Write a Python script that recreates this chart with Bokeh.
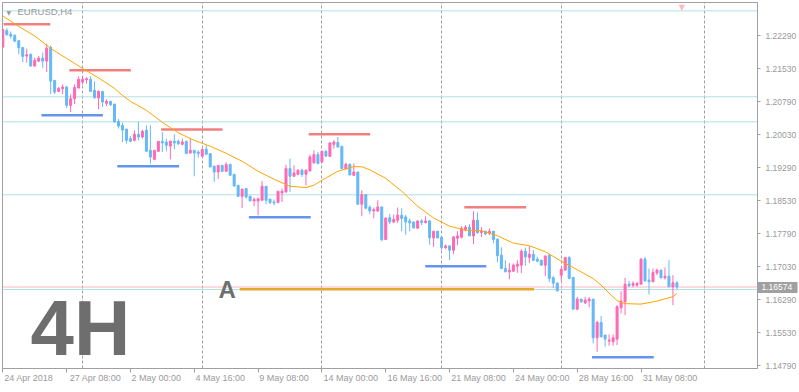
from bokeh.plotting import figure
from bokeh.models import ColumnDataSource, Range1d, FixedTicker, PrintfTickFormatter, Span, Label, LinearAxis
from bokeh.embed import file_html
from bokeh.resources import INLINE

# ---------------- data ----------------
symbol_title = "EURUSD,H4"
timeframe_text = "4H"
level_a_text = "A"

bar_open = [1.22026, 1.22405, 1.22321, 1.22291, 1.22171, 1.22019, 1.21822, 1.21860, 1.21595, 1.21708,
            1.21776, 1.21708, 1.22019, 1.21270, 1.21020, 1.21082, 1.21118, 1.20702, 1.20854, 1.21095,
            1.21231, 1.21286, 1.21293, 1.21043, 1.20868, 1.21020, 1.20748, 1.20793, 1.20732, 1.20339,
            1.20248, 1.20164, 1.19947, 1.19908, 1.20044, 1.19983, 1.20135, 1.19681, 1.19477, 1.19658,
            1.19885, 1.19869, 1.19778, 1.19885, 1.19885, 1.19817, 1.19878, 1.19620, 1.19681, 1.19642,
            1.19545, 1.19704, 1.19606, 1.19318, 1.19188, 1.19340, 1.19204, 1.19363, 1.19136, 1.18887,
            1.18637, 1.18812, 1.18637, 1.18530, 1.18530, 1.18546, 1.18864, 1.18569, 1.18507, 1.18494,
            1.18712, 1.18734, 1.19265, 1.19091, 1.19136, 1.19227, 1.19136, 1.19211, 1.19393, 1.19584,
            1.19415, 1.19658, 1.19545, 1.19817, 1.19856, 1.19772, 1.19265, 1.19363, 1.19113, 1.19188,
            1.18455, 1.18675, 1.18387, 1.18303, 1.18303, 1.18394, 1.17654, 1.18149, 1.18053, 1.18092,
            1.18205, 1.18167, 1.18076, 1.18053, 1.17910, 1.18076, 1.18039, 1.18076, 1.17690, 1.17842,
            1.17706, 1.17468, 1.17508, 1.17411, 1.17683, 1.17706, 1.17881, 1.17933, 1.17736, 1.18092,
            1.17813, 1.17842, 1.17797, 1.17842, 1.17661, 1.17297, 1.16995, 1.16918, 1.16934, 1.17048,
            1.17071, 1.17389, 1.17245, 1.17320, 1.17207, 1.17184, 1.17071, 1.17298, 1.16783, 1.16662,
            1.16843, 1.16957, 1.17245, 1.16791, 1.16071, 1.16299, 1.16215, 1.16260, 1.16299, 1.15420,
            1.15770, 1.15482, 1.15345, 1.15329, 1.15391, 1.16101, 1.16237, 1.16639, 1.16616, 1.16616,
            1.16639, 1.17207, 1.16730, 1.16692, 1.16895, 1.16957, 1.16782, 1.16821, 1.16578, 1.16669]

bar_high = [1.22444, 1.22457, 1.22382, 1.22321, 1.22185, 1.22019, 1.21990, 1.21883, 1.21785, 1.21822,
            1.21899, 1.22103, 1.22064, 1.21270, 1.21118, 1.21179, 1.21141, 1.20952, 1.21179, 1.21361,
            1.21361, 1.21345, 1.21361, 1.21247, 1.21043, 1.21020, 1.20839, 1.20809, 1.20732, 1.20390,
            1.20310, 1.20164, 1.20006, 1.20135, 1.20323, 1.20150, 1.20248, 1.20248, 1.19681, 1.19885,
            1.20096, 1.19947, 1.19892, 1.20044, 1.19924, 1.19947, 1.19908, 1.19947, 1.19681, 1.19681,
            1.19719, 1.19794, 1.19606, 1.19340, 1.19340, 1.19340, 1.19409, 1.19363, 1.19136, 1.18887,
            1.18812, 1.18812, 1.18637, 1.18608, 1.18608, 1.18984, 1.18864, 1.18585, 1.18562, 1.18750,
            1.18812, 1.19356, 1.19493, 1.19340, 1.19250, 1.19265, 1.19250, 1.19584, 1.19681, 1.19642,
            1.19658, 1.19681, 1.19869, 1.19908, 1.19983, 1.19772, 1.19400, 1.19379, 1.19379, 1.19188,
            1.18773, 1.18675, 1.18432, 1.18382, 1.18546, 1.18394, 1.18144, 1.18235, 1.18221, 1.18382,
            1.18364, 1.18217, 1.18131, 1.18053, 1.18092, 1.18115, 1.18183, 1.18092, 1.17849, 1.17849,
            1.17713, 1.17540, 1.17525, 1.17729, 1.17842, 1.17956, 1.17979, 1.18001, 1.18296, 1.18274,
            1.17939, 1.17849, 1.17904, 1.17842, 1.17677, 1.17479, 1.17184, 1.17116, 1.17109, 1.17184,
            1.17434, 1.17468, 1.17502, 1.17411, 1.17263, 1.17184, 1.17298, 1.17320, 1.16821, 1.16685,
            1.17018, 1.17259, 1.17275, 1.16805, 1.16350, 1.16299, 1.16350, 1.16350, 1.16299, 1.15806,
            1.15913, 1.15482, 1.15497, 1.15497, 1.16163, 1.16481, 1.16782, 1.16714, 1.16708, 1.16692,
            1.17236, 1.17259, 1.16995, 1.16995, 1.16995, 1.16973, 1.17018, 1.17184, 1.16843, 1.16708]

bar_low = [1.22003, 1.22291, 1.22217, 1.22139, 1.21860, 1.21685, 1.21672, 1.21595, 1.21595, 1.21685,
           1.21548, 1.21458, 1.20959, 1.20959, 1.21004, 1.20959, 1.20641, 1.20550, 1.20732, 1.21095,
           1.21172, 1.21195, 1.21020, 1.20854, 1.20612, 1.20664, 1.20687, 1.20687, 1.20323, 1.20174,
           1.19869, 1.19833, 1.19869, 1.19885, 1.19908, 1.19947, 1.19658, 1.19379, 1.19454, 1.19642,
           1.19642, 1.19658, 1.19477, 1.19704, 1.19794, 1.19794, 1.19606, 1.19606, 1.19091, 1.19515,
           1.19529, 1.19590, 1.19302, 1.18961, 1.19029, 1.19188, 1.19188, 1.19113, 1.18848, 1.18621,
           1.18371, 1.18585, 1.18530, 1.18410, 1.18205, 1.18546, 1.18455, 1.18455, 1.18432, 1.18478,
           1.18507, 1.18721, 1.18734, 1.19075, 1.19113, 1.19075, 1.18887, 1.19211, 1.19393, 1.19363,
           1.19400, 1.19529, 1.19529, 1.19720, 1.19742, 1.19265, 1.19238, 1.19113, 1.19097, 1.18455,
           1.18183, 1.18341, 1.18228, 1.18137, 1.18278, 1.17615, 1.17654, 1.18001, 1.18024, 1.18031,
           1.17842, 1.17758, 1.17842, 1.17904, 1.17904, 1.17979, 1.18017, 1.17536, 1.17486, 1.17677,
           1.17411, 1.17434, 1.17184, 1.17320, 1.17525, 1.17677, 1.17842, 1.17736, 1.17547, 1.17791,
           1.17713, 1.17752, 1.17752, 1.17570, 1.17139, 1.16980, 1.16918, 1.16753, 1.16918, 1.16896,
           1.16889, 1.17060, 1.17116, 1.17161, 1.17139, 1.17055, 1.16821, 1.16685, 1.16548, 1.16470,
           1.16714, 1.16957, 1.16753, 1.16071, 1.16049, 1.16215, 1.16185, 1.16111, 1.15293, 1.15102,
           1.15429, 1.15216, 1.15239, 1.15239, 1.15255, 1.15974, 1.15936, 1.16578, 1.16564, 1.16578,
           1.16639, 1.16692, 1.16405, 1.16692, 1.16843, 1.16769, 1.16746, 1.16578, 1.16163, 1.16520]

bar_close = [1.22428, 1.22307, 1.22276, 1.22162, 1.22012, 1.21815, 1.21853, 1.21595, 1.21724, 1.21776,
             1.21708, 1.22003, 1.21254, 1.21004, 1.21088, 1.21118, 1.20702, 1.20854, 1.21111, 1.21293,
             1.21293, 1.21308, 1.21020, 1.20877, 1.21020, 1.20777, 1.20793, 1.20718, 1.20323, 1.20232,
             1.20141, 1.19908, 1.19885, 1.20044, 1.19983, 1.20112, 1.19658, 1.19529, 1.19681, 1.19885,
             1.19847, 1.19794, 1.19892, 1.19847, 1.19833, 1.19869, 1.19606, 1.19681, 1.19620, 1.19606,
             1.19697, 1.19590, 1.19302, 1.19188, 1.19340, 1.19204, 1.19356, 1.19113, 1.18871, 1.18637,
             1.18796, 1.18621, 1.18530, 1.18562, 1.18576, 1.18864, 1.18546, 1.18494, 1.18485, 1.18750,
             1.18750, 1.19265, 1.19091, 1.19166, 1.19227, 1.19129, 1.19227, 1.19529, 1.19584, 1.19379,
             1.19658, 1.19550, 1.19847, 1.19869, 1.19756, 1.19265, 1.19363, 1.19120, 1.19188, 1.18455,
             1.18671, 1.18364, 1.18303, 1.18330, 1.18394, 1.17650, 1.18144, 1.18053, 1.18110, 1.18205,
             1.18130, 1.18053, 1.18030, 1.17917, 1.18076, 1.18039, 1.18076, 1.17690, 1.17842, 1.17690,
             1.17468, 1.17508, 1.17411, 1.17713, 1.17736, 1.17910, 1.17933, 1.17736, 1.18092, 1.17804,
             1.17842, 1.17781, 1.17842, 1.17654, 1.17286, 1.16995, 1.16918, 1.16957, 1.17071, 1.17093,
             1.17389, 1.17259, 1.17320, 1.17184, 1.17161, 1.17071, 1.17275, 1.16769, 1.16662, 1.16487,
             1.16973, 1.17245, 1.16769, 1.16071, 1.16299, 1.16237, 1.16276, 1.16299, 1.15420, 1.15770,
             1.15443, 1.15391, 1.15368, 1.15420, 1.16124, 1.16253, 1.16639, 1.16601, 1.16655, 1.16655,
             1.17207, 1.16714, 1.16692, 1.16904, 1.16957, 1.16782, 1.16821, 1.16578, 1.16669, 1.16574]

# moving average (bar index, price)
ma_bar = [0, 4, 8, 12, 16, 20, 24, 28, 30, 32, 36, 40, 44, 48, 52, 56, 60, 64, 68, 72, 76, 78, 80,
          84, 88, 90, 92, 96, 100, 104, 108, 112, 116, 120, 124, 128, 132, 136, 140, 144, 148, 150,
          152, 154, 156, 160, 164, 168, 169]
ma_value = [1.22734, 1.22496, 1.22280, 1.21996, 1.21770, 1.21543, 1.21327, 1.21088, 1.20929, 1.20793,
            1.20589, 1.20317, 1.20078, 1.19908, 1.19772, 1.19613, 1.19431, 1.19204, 1.19023, 1.18864,
            1.18834, 1.18887, 1.19000, 1.19204, 1.19311, 1.19306, 1.19238, 1.19045, 1.18750, 1.18410,
            1.18144, 1.17956, 1.17865, 1.17854, 1.17740, 1.17570, 1.17513, 1.17377, 1.17161, 1.16968,
            1.16766, 1.16616, 1.16435, 1.16264, 1.16196, 1.16185, 1.16253, 1.16356, 1.16428]

# short resistance (red) and support (blue) levels
res_start = [0.2, 16.7, 39.7, 76.7, 115.7]
res_end = [11.9, 32.1, 55.1, 92.1, 131.2]
res_price = [1.22547, 1.21501, 1.20154, 1.20047, 1.18388]
sup_start = [9.7, 28.7, 61.7, 105.9, 147.7]
sup_end = [25.1, 44.2, 77.2, 121.2, 163.2]
sup_price = [1.20479, 1.19320, 1.18160, 1.17047, 1.14979]
level_a_start = [59.4]
level_a_end = [133.2]
level_a_price = [1.16524]

# full-width horizontal lines and the bid line
hline_price = [1.22851, 1.20897, 1.20329, 1.18670, 1.16517]
bid_price = 1.16574

# axes
price_ticks = [1.22290, 1.21530, 1.20790, 1.20030, 1.19290, 1.18530, 1.17790, 1.17030, 1.16290, 1.15530, 1.14790]
date_tick_bar = [0, 16, 32, 48, 64, 80, 96, 112, 128, 144, 160]
date_tick_label = ["24 Apr 2018", "27 Apr 08:00", "2 May 00:00", "4 May 16:00", "9 May 08:00",
                   "14 May 00:00", "16 May 16:00", "21 May 08:00", "24 May 00:00", "28 May 16:00",
                   "31 May 08:00"]
grid_bar = [20, 50, 80, 110, 140, 176]

# ---------------- styling ----------------
W, H = 799, 392
B_LEFT, B_RIGHT, B_TOP, B_BOTTOM = 2, 40, 2, 24
X_START, X_END = -0.075, 189.2
Y_LO, Y_HI = 1.14722, 1.23040
FONT = "Liberation Sans"
GRAY = "#a0a0a0"
TEXT_GRAY = "#9a9a9a"
UP = "#ff69b4"
DOWN = "#66b8f8"
RES = "#f08080"
SUP = "#6495ed"
LEVEL_A = "#e6a82a"
MA = "#ffa500"
HLINE = "#b0e0e6"
BID = "#ffb6c1"
BIG_TEXT = "#6e6e6e"
PRICE_FONT_SIZE = "8.5px"

p = figure(width=W, height=H, output_backend="svg", toolbar_location=None,
           x_range=Range1d(X_START, X_END), y_range=Range1d(Y_LO, Y_HI),
           y_axis_location="right",
           min_border_left=B_LEFT, min_border_right=B_RIGHT,
           min_border_top=B_TOP, min_border_bottom=B_BOTTOM,
           background_fill_color="white", border_fill_color="white",
           outline_line_color=GRAY)

frame_w = W - B_LEFT - B_RIGHT
bar_px = frame_w / (X_END - X_START)

# inner right axis: short price tick marks (minor) + the grey bid-price box (major)
ya = p.yaxis[0]
ya.ticker = FixedTicker(ticks=[bid_price], minor_ticks=price_ticks)
ya.formatter = PrintfTickFormatter(format="%.5f")
ya.axis_line_color = GRAY
ya.major_tick_line_color = GRAY
ya.major_tick_line_width = 11
ya.major_tick_out = 40
ya.major_tick_in = 0
ya.minor_tick_line_color = GRAY
ya.minor_tick_out = 3
ya.minor_tick_in = 0
ya.major_label_standoff = -36
ya.major_label_text_font = FONT
ya.major_label_text_font_size = PRICE_FONT_SIZE
ya.major_label_text_color = "white"

# outer right axis: the price labels, pulled back next to the tick marks
ya2 = LinearAxis(ticker=FixedTicker(ticks=price_ticks), formatter=PrintfTickFormatter(format="%.5f"))
ya2.axis_line_color = None
ya2.major_tick_line_color = None
ya2.major_tick_out = 0
ya2.major_tick_in = 0
ya2.minor_tick_line_color = None
ya2.major_label_standoff = -30
ya2.major_label_text_font = FONT
ya2.major_label_text_font_size = PRICE_FONT_SIZE
ya2.major_label_text_color = TEXT_GRAY
p.add_layout(ya2, "right")

# bottom time axis: short ticks at the bars, labels starting just right of them
label_pos = []
overrides = {}
for b, lab in zip(date_tick_bar, date_tick_label):
    w_px = 4.45 * len(lab)
    off = round(((w_px / 2 + 2) / bar_px) * 4) / 4
    label_pos.append(b + off)
    overrides[b + off] = lab
xa = p.xaxis[0]
xa.ticker = FixedTicker(ticks=label_pos, minor_ticks=date_tick_bar)
xa.major_label_overrides = overrides
xa.axis_line_color = GRAY
xa.major_tick_line_color = None
xa.major_tick_out = 3
xa.major_tick_in = 0
xa.minor_tick_line_color = GRAY
xa.minor_tick_out = 4
xa.minor_tick_in = 0
xa.major_label_standoff = 0
xa.major_label_text_font = FONT
xa.major_label_text_font_size = "9px"
xa.major_label_text_color = TEXT_GRAY

# grids
p.ygrid.visible = False
p.xgrid.ticker = FixedTicker(ticks=grid_bar)
p.xgrid.grid_line_color = GRAY
p.xgrid.grid_line_dash = "3 2"
p.xgrid.grid_line_width = 1

# full-width lines
for lvl in hline_price:
    p.add_layout(Span(location=lvl, dimension="width", line_color=HLINE, line_width=1, level="underlay"))
p.add_layout(Span(location=bid_price, dimension="width", line_color=BID, line_width=1, level="underlay"))

# short levels
p.segment(x0=res_start, y0=res_price, x1=res_end, y1=res_price, line_color=RES, line_width=2.5)
p.segment(x0=sup_start, y0=sup_price, x1=sup_end, y1=sup_price, line_color=SUP, line_width=2.5)
p.segment(x0=level_a_start, y0=level_a_price, x1=level_a_end, y1=level_a_price, line_color=LEVEL_A, line_width=2.5)

# candles
def candle_source(is_up):
    d = dict(x=[], hi=[], lo=[], top=[], bottom=[])
    for i, (o, h, l, c) in enumerate(zip(bar_open, bar_high, bar_low, bar_close)):
        if (c >= o) == is_up:
            d["x"].append(i)
            d["hi"].append(h)
            d["lo"].append(l)
            d["top"].append(max(o, c))
            d["bottom"].append(min(o, c))
    return ColumnDataSource(d)

for is_up, col in ((True, UP), (False, DOWN)):
    src = candle_source(is_up)
    p.segment(x0="x", y0="hi", x1="x", y1="lo", source=src, line_color=col, line_width=1)
    p.vbar(x="x", top="top", bottom="bottom", width=0.5, source=src,
           fill_color=col, line_color=col, line_width=1)

# moving average
p.line(ma_bar, ma_value, line_color=MA, line_width=1)

# texts (positive y_offset moves up)
p.add_layout(Label(x=X_START, y=Y_HI, x_offset=4, y_offset=-6, text="\u25bc",
                   text_font="DejaVu Sans", text_font_size="6px", text_color=TEXT_GRAY,
                   text_baseline="top"))
p.add_layout(Label(x=X_START, y=Y_HI, x_offset=15, y_offset=-3, text=symbol_title,
                   text_font=FONT, text_font_size="9.5px", text_color=TEXT_GRAY,
                   text_baseline="top"))
p.add_layout(Label(x=len(bar_open) + 0.2, y=Y_HI, y_offset=0, text="\u25bc",
                   text_font="DejaVu Sans", text_font_size="8px", text_color=BID,
                   text_align="center", text_baseline="top"))
p.add_layout(Label(x=X_START, y=Y_LO, x_offset=28, y_offset=41, text=timeframe_text,
                   text_font=FONT, text_font_size="78px", text_font_style="bold",
                   text_color=BIG_TEXT, text_baseline="middle"))
p.add_layout(Label(x=level_a_start[0], y=level_a_price[0], x_offset=-4, text=level_a_text,
                   text_font=FONT, text_font_size="24px", text_font_style="bold",
                   text_color=BIG_TEXT, text_align="right", text_baseline="middle"))

open("out.html", "w").write(file_html(p, INLINE))
